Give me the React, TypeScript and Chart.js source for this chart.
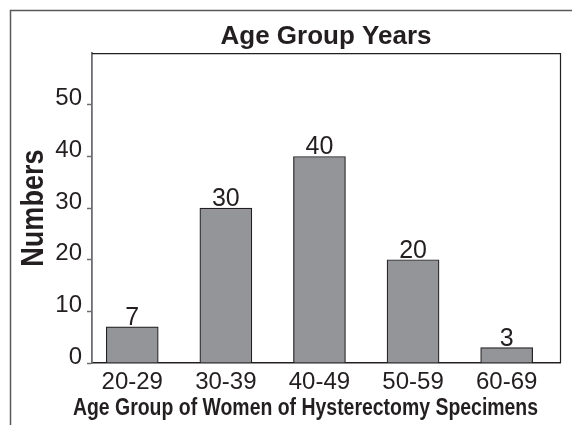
import React, { useEffect, useRef } from "react";
import { Chart, registerables } from "chart.js";

Chart.register(...registerables);

const categories = ["20-29", "30-39", "40-49", "50-59", "60-69"];
const counts = [7, 30, 40, 20, 3];
const yTickValues = [0, 10, 20, 30, 40, 50];
const chartTitle = "Age Group Years";
const xTitle = "Age Group of Women of Hysterectomy Specimens";
const yTitle = "Numbers";

const SANS = "'Liberation Sans', Arial, sans-serif";
const DARK = "#231f20";
const CONDENSE = 0.845;

const framePlugin = {
  id: "framePlugin",
  beforeDraw(chart: any) {
    const { ctx, width, height } = chart;
    ctx.save();
    ctx.fillStyle = "#ffffff";
    ctx.fillRect(0, 0, width, height);
    ctx.strokeStyle = "#58595b";
    ctx.lineWidth = 1.5;
    ctx.beginPath();
    ctx.moveTo(10.5, height);
    ctx.lineTo(10.5, 10.5);
    ctx.lineTo(width, 10.5);
    ctx.stroke();
    ctx.restore();
  },
  afterDraw(chart: any) {
    const { ctx, chartArea } = chart;
    ctx.save();
    ctx.strokeStyle = DARK;
    ctx.lineWidth = 1.2;
    ctx.beginPath();
    ctx.moveTo(chartArea.left, chartArea.top + 0.5);
    ctx.lineTo(chartArea.right + 0.5, chartArea.top + 0.5);
    ctx.lineTo(chartArea.right + 0.5, chartArea.bottom);
    ctx.stroke();
    ctx.restore();

    // x axis title (condensed bold)
    ctx.save();
    ctx.fillStyle = DARK;
    ctx.font = `bold 23px ${SANS}`;
    ctx.textAlign = "center";
    ctx.textBaseline = "middle";
    ctx.translate(305.5, 409);
    ctx.scale(CONDENSE, 1);
    ctx.fillText(xTitle, 0, 0);
    ctx.restore();

    // y axis title (condensed bold, rotated)
    ctx.save();
    ctx.fillStyle = DARK;
    ctx.font = `bold 32px ${SANS}`;
    ctx.textAlign = "center";
    ctx.textBaseline = "middle";
    ctx.translate(34, (chartArea.top + chartArea.bottom) / 2);
    ctx.rotate(-Math.PI / 2);
    ctx.scale(CONDENSE, 1);
    ctx.fillText(yTitle, 0, 0);
    ctx.restore();
  },
};

const valueLabelPlugin = {
  id: "valueLabelPlugin",
  afterDatasetsDraw(chart: any) {
    const { ctx } = chart;
    const meta = chart.getDatasetMeta(0);
    ctx.save();
    ctx.fillStyle = DARK;
    ctx.font = `25px ${SANS}`;
    ctx.textAlign = "center";
    ctx.textBaseline = "alphabetic";
    meta.data.forEach((bar: any, i: number) => {
      ctx.fillText(String(counts[i]), bar.x, bar.y - 2);
    });
    ctx.restore();
  },
};

export default function App() {
  const ref = useRef<HTMLCanvasElement | null>(null);
  useEffect(() => {
    document.body.style.margin = "0";
    const canvas = ref.current!;
    const chart = new Chart(canvas, {
      type: "bar",
      data: {
        datasets: [
          {
            data: counts.map((v, i) => ({ x: i, y: v })),
            backgroundColor: "#939598",
            borderColor: DARK,
            borderWidth: 1.2,
            barThickness: 52,
          },
        ],
      },
      plugins: [framePlugin, valueLabelPlugin],
      options: {
        responsive: false,
        animation: false,
        layout: { padding: { left: 0, right: 12, top: 0, bottom: 0 } },
        plugins: {
          legend: { display: false },
          tooltip: { enabled: false },
          title: {
            display: true,
            text: chartTitle,
            fullSize: false,
            color: DARK,
            font: { family: SANS, size: 26, weight: "bold" },
            padding: { top: 21, bottom: 1 },
          },
        },
        scales: {
          x: {
            type: "linear",
            min: -0.43,
            max: 4.57,
            offset: false,
            afterBuildTicks(scale: any) {
              scale.ticks = categories.map((_, i) => ({ value: i }));
            },
            grid: { display: false, drawTicks: false, tickLength: 0 },
            border: { display: true, color: DARK, width: 1.5 },
            ticks: {
              color: DARK,
              font: { family: SANS, size: 24 },
              padding: 5,
              maxRotation: 0,
              autoSkip: false,
              callback: (v: any) => categories[Number(v)] ?? "",
            },
            afterFit(scale: any) {
              scale.height = 62;
            },
          },
          y: {
            min: 0,
            max: 60,
            afterBuildTicks(scale: any) {
              scale.ticks = yTickValues.map((v) => ({ value: v }));
            },
            grid: {
              drawOnChartArea: false,
              drawTicks: true,
              tickLength: 5,
              color: "#6d6e71",
              tickColor: "#6d6e71",
              tickWidth: 1.5,
            },
            border: { display: true, color: "#6d6e71", width: 1.8 },
            ticks: {
              color: DARK,
              font: { family: SANS, size: 24 },
              padding: 5,
              labelOffset: -6,
            },
            afterFit(scale: any) {
              scale.width = 92;
            },
          },
        },
      },
    });
    return () => chart.destroy();
  }, []);
  return (
    <div style={{ position: "fixed", left: 0, top: 0, width: 572, height: 425 }}>
      <canvas ref={ref} width={572} height={425} />
    </div>
  );
}
